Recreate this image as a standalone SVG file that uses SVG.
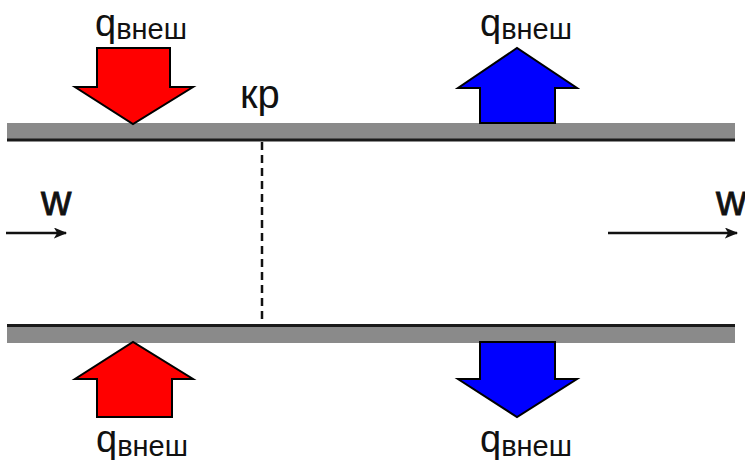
<svg xmlns="http://www.w3.org/2000/svg" width="745" height="467" viewBox="0 0 745 467">
  <defs>
    <style>
      .wall { fill: #8a8a8a; }
      .edge { stroke: #1a1a1a; stroke-width: 3; fill: none; }
      .heat-in { fill: #ff0000; stroke: #000; stroke-width: 2; stroke-linejoin: miter; }
      .heat-out { fill: #0000ff; stroke: #000; stroke-width: 2; stroke-linejoin: miter; }
      .lbl { font-family: "Liberation Sans", Arial, sans-serif; fill: #111; }
      .q { font-size: 38px; }
      .sub { font-size: 29px; }
      .w { font-size: 42px; stroke: #111; stroke-width: 0.8; }
      .flow { stroke: #111; stroke-width: 2.5; fill: none; }
      .section { stroke: #111; stroke-width: 2.5; stroke-dasharray: 8 5; fill: none; }
    </style>
    <marker id="flowhead" viewBox="0 0 12 10" refX="11" refY="5" markerWidth="14" markerHeight="11" markerUnits="userSpaceOnUse" orient="auto">
      <path d="M0,0 L12,5 L0,10 L3,5 Z" fill="#111"/>
    </marker>
  </defs>
  <rect width="745" height="467" fill="#ffffff"/>

  <!-- upper wall of the channel -->
  <g id="wall-top">
    <rect class="wall" x="7" y="123" width="728" height="16"/>
    <line class="edge" x1="7" y1="140" x2="735" y2="140"/>
  </g>

  <!-- lower wall of the channel -->
  <g id="wall-bottom">
    <rect class="wall" x="7" y="327" width="728" height="16"/>
    <line class="edge" x1="7" y1="325.5" x2="735" y2="325.5"/>
  </g>

  <!-- critical cross-section -->
  <g id="section-kr">
    <line class="section" x1="262" y1="142" x2="262" y2="324"/>
    <text class="lbl" x="240" y="108" font-size="40">кр</text>
  </g>

  <!-- heat supplied from outside -->
  <g id="heat-in-top">
    <polygon class="heat-in" points="97,48 170,48 170,87 193,87 133,124 75,87 97,87"/>
    <text class="lbl" x="95" y="36"><tspan class="q">q</tspan><tspan class="sub" dy="3">внеш</tspan></text>
  </g>
  <g id="heat-in-bottom">
    <polygon class="heat-in" points="97,417 172,417 172,379 193,379 133,342 75,379 97,379"/>
    <text class="lbl" x="96" y="452"><tspan class="q">q</tspan><tspan class="sub" dy="4">внеш</tspan></text>
  </g>

  <!-- heat removed to outside -->
  <g id="heat-out-top">
    <polygon class="heat-out" points="480,123 555,123 555,88 577,88 517,48 458,88 480,88"/>
    <text class="lbl" x="480" y="36"><tspan class="q">q</tspan><tspan class="sub" dy="3">внеш</tspan></text>
  </g>
  <g id="heat-out-bottom">
    <polygon class="heat-out" points="480,342 555,342 555,379 577,379 517,417 458,379 480,379"/>
    <text class="lbl" x="480" y="452"><tspan class="q">q</tspan><tspan class="sub" dy="4">внеш</tspan></text>
  </g>

  <!-- flow velocity labels -->
  <g id="w-in">
    <text class="lbl w" x="41" y="215">w</text>
  </g>
  <g id="w-out">
    <text class="lbl w" x="716" y="215">w</text>
  </g>

  <!-- flow direction arrows -->
  <g id="connectors">
    <line class="flow" x1="6" y1="233" x2="66" y2="233" marker-end="url(#flowhead)"/>
    <line class="flow" x1="608" y1="233" x2="737" y2="233" marker-end="url(#flowhead)"/>
  </g>
</svg>
